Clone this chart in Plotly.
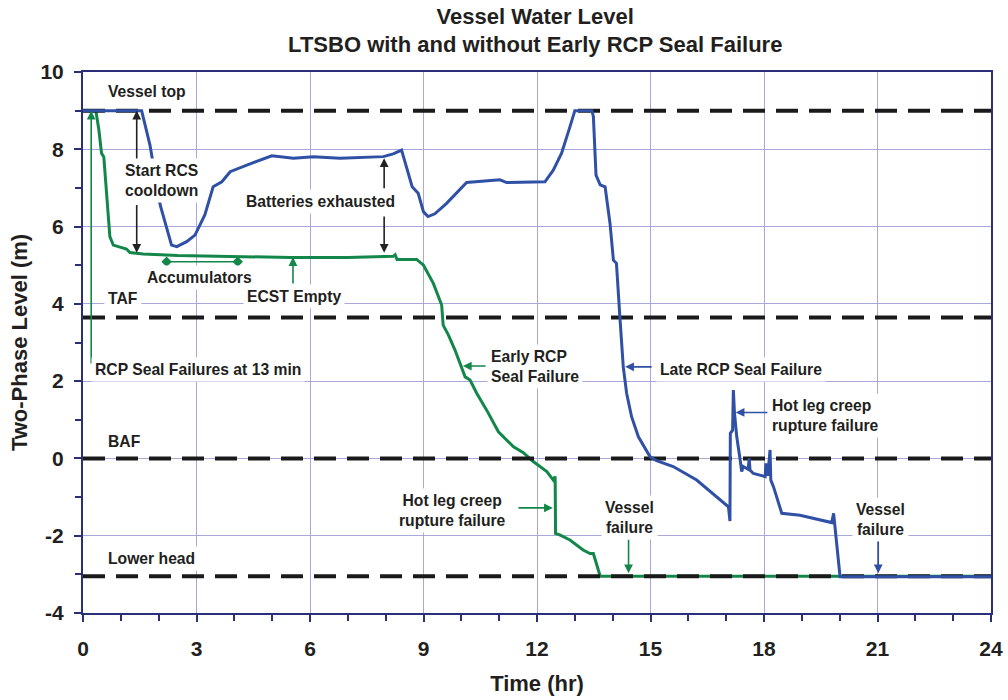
import plotly.graph_objects as go

# ---------------- data ----------------
early_t = [0, 0.34, 0.42, 0.49, 0.55, 0.62, 0.71, 0.80, 1.0, 1.15, 1.24, 1.59, 2.5, 4.0, 5.5,
           7.0, 7.85, 8.2, 8.25, 8.3, 8.82, 9.0, 9.26, 9.48, 9.52, 9.66, 9.83, 10.0, 10.1,
           10.23, 10.41, 10.67, 10.98, 11.38, 11.64, 11.9, 12.26, 12.43, 12.48, 12.49, 12.6,
           12.87, 13.22, 13.4, 13.49, 13.67, 24]
early_y = [9.0, 9.0, 8.5, 7.9, 7.8, 6.9, 5.74, 5.52, 5.46, 5.42, 5.33, 5.29, 5.25, 5.22, 5.2,
           5.2, 5.21, 5.23, 5.27, 5.15, 5.15, 5.0, 4.53, 3.97, 3.45, 3.19, 2.81, 2.37, 2.11,
           2.03, 1.68, 1.25, 0.69, 0.30, 0.15, -0.08, -0.34, -0.56, -0.47, -1.94, -1.98,
           -2.11, -2.37, -2.46, -2.46, -3.05, -3.05]

late_t = [0, 1.55, 1.77, 2.04, 2.34, 2.48, 2.74, 2.96, 3.22, 3.44, 3.67, 3.89, 4.33, 4.99,
          5.56, 6.09, 6.79, 7.94, 8.2, 8.42, 8.7, 8.86, 9.0, 9.12, 9.3, 9.61, 10.14, 11.02,
          11.2, 12.21, 12.43, 12.65, 12.87, 13.0, 13.45, 13.49, 13.56, 13.67, 13.8, 13.93,
          14.02, 14.1, 14.19, 14.28, 14.37, 14.5, 14.68, 14.81, 14.99, 15.16, 15.6, 16.22,
          17.06, 17.10, 17.11, 17.17, 17.19, 17.22, 17.28, 17.37, 17.41, 17.45, 17.58, 17.61,
          17.63, 17.72, 18.03, 18.05, 18.10, 18.16, 18.18, 18.25, 18.47, 18.95, 19.57, 19.79,
          19.84, 19.88, 20.01, 24]
late_y = [9.0, 9.0, 8.11, 6.56, 5.52, 5.48, 5.61, 5.78, 6.30, 7.03, 7.16, 7.42, 7.59, 7.83,
          7.77, 7.81, 7.77, 7.81, 7.88, 7.98, 7.03, 6.86, 6.38, 6.26, 6.33, 6.60, 7.14, 7.21,
          7.14, 7.16, 7.46, 7.9, 8.58, 9.0, 9.0, 8.85, 7.33, 7.08, 7.03, 6.08,
          5.13, 5.05, 3.67, 2.37, 1.68, 1.08, 0.56, 0.35, 0.04, -0.06, -0.21, -0.56,
          -1.25, -1.62, 0.65, 0.73, 1.77, 1.17, 0.56, -0.04, -0.34, -0.21, -0.28, 0.0,
          -0.3, -0.39, -0.47, -0.13, -0.45, 0.22, -0.56, -0.73, -1.42, -1.47, -1.6, -1.66,
          -1.42, -1.77, -3.06, -3.06]

ref_names = ["Vessel top", "TAF", "BAF", "Lower head"]
ref_levels = [9.0, 3.65, 0.0, -3.05]
time_range = [0, 24]
x_ticks = [0, 3, 6, 9, 12, 15, 18, 21, 24]
y_ticks = [-4, -2, 0, 2, 4, 6, 8, 10]
y_tick_labels = ["-4", "-2", "0", "2", "4", "6", "8", "10"]
accum_span = [2.21, 4.09]
accum_level = 5.09
seal_fail_time = 13 / 60

# ---------------- style ----------------
BLUE = "#2f50a5"
GREEN = "#13874a"
NAVY = "#2b2e78"
TXT = "#231f20"
FONT = "Liberation Sans, Arial, sans-serif"

fig = go.Figure()

fig.add_trace(go.Scatter(x=early_t, y=early_y, mode="lines",
                         line=dict(color=GREEN, width=3), name="Early RCP Seal Failure",
                         showlegend=False))
for lvl in ref_levels:
    fig.add_trace(go.Scatter(x=time_range, y=[lvl, lvl], mode="lines",
                             line=dict(color="#1a1a1a", width=4, dash="22px,11px"),
                             showlegend=False, hoverinfo="skip"))
fig.add_trace(go.Scatter(x=late_t, y=late_y, mode="lines",
                         line=dict(color=BLUE, width=3), name="Late RCP Seal Failure",
                         showlegend=False))

ann = []


def label(text, x, y, xanchor="center", align="center"):
    ann.append(dict(text=text, x=x, y=y, xref="x", yref="y", showarrow=False,
                    xanchor=xanchor, yanchor="middle", align=align,
                    font=dict(family=FONT, size=15.7, color=TXT, weight="bold"),
                    bgcolor="white", borderpad=3))


def arrow(hx, hy, tx, ty, color):
    ann.append(dict(text="", x=hx, y=hy, ax=tx, ay=ty, xref="x", yref="y",
                    axref="x", ayref="y", showarrow=True, arrowhead=2, arrowsize=1.1,
                    arrowwidth=1.6, arrowcolor=color, standoff=0))


# reference line labels
ref_label_y = [9.49, 4.15, 0.43, -2.6]
for name, ly in zip(ref_names, ref_label_y):
    label(name, 0.56, ly, xanchor="left")

# arrows first, labels over them
arrow(seal_fail_time, 9.0, seal_fail_time, 2.42, GREEN)
arrow(1.42, 9.0, 1.42, 7.45, "#222222")
arrow(1.42, 5.32, 1.42, 6.6, "#222222")
arrow(7.96, 7.77, 7.96, 6.95, "#222222")
arrow(7.96, 5.32, 7.96, 6.3, "#222222")
arrow(5.55, 5.21, 5.55, 4.49, GREEN)
arrow(10.04, 2.39, 10.68, 2.39, GREEN)
arrow(12.42, -1.28, 11.47, -1.28, GREEN)
arrow(14.42, -2.97, 14.42, -2.06, GREEN)
arrow(14.33, 2.37, 15.07, 2.37, BLUE)
arrow(17.25, 1.19, 18.13, 1.19, BLUE)
arrow(21.02, -2.97, 21.02, -2.06, BLUE)

label("Start RCS<br>cooldown", 2.08, 7.2)
label("Batteries exhausted", 6.29, 6.64)
label("Accumulators", 3.07, 4.68)
label("ECST Empty", 5.58, 4.2)
label("RCP Seal Failures at 13 min", 0.22, 2.31, xanchor="left")
label("Early RCP<br>Seal Failure", 10.68, 2.39, xanchor="left", align="left")
label("Hot leg creep<br>rupture failure", 11.28, -1.34, xanchor="right", align="center")
label("Vessel<br>failure", 14.44, -1.54)
label("Late RCP Seal Failure", 15.15, 2.29, xanchor="left")
label("Hot leg creep<br>rupture failure", 18.1, 1.10, xanchor="left", align="left")
label("Vessel<br>failure", 21.07, -1.57)

# accumulator span marker drawn on top
fig.add_trace(go.Scatter(x=accum_span, y=[accum_level, accum_level], mode="lines+markers",
                         line=dict(color=GREEN, width=1.5),
                         marker=dict(symbol="diamond", size=8, color=GREEN),
                         showlegend=False, hoverinfo="skip"))

axis_common = dict(showline=True, linecolor=NAVY, linewidth=2, mirror=True,
                   ticks="outside", ticklen=7, tickwidth=1.5, tickcolor=NAVY,
                   showgrid=True, gridcolor="#a8a8da", gridwidth=1, zeroline=False,
                   automargin=False,
                   tickfont=dict(family=FONT, size=21, color=TXT, weight="bold"))

fig.update_layout(
    width=1008, height=700,
    paper_bgcolor="white", plot_bgcolor="white",
    margin=dict(l=83, r=17, t=72, b=87),
    title=dict(text="Vessel Water Level<br>LTSBO with and without Early RCP Seal Failure",
               x=0.531, xanchor="center", yref="container", y=0.966, yanchor="top",
               font=dict(family=FONT, size=22, color=TXT, weight="bold")),
    xaxis=dict(range=time_range, tickvals=x_ticks, ticklabelstandoff=9,
               minor=dict(dtick=1, ticks="outside", ticklen=6, tickcolor=NAVY, showgrid=False),
               title=dict(text="Time (hr)", standoff=16,
                          font=dict(family=FONT, size=22, color=TXT, weight="bold")),
               **axis_common),
    yaxis=dict(range=[-4, 10], tickvals=y_ticks, ticktext=y_tick_labels, ticklabelstandoff=6,
               minor=dict(dtick=1, ticks="outside", ticklen=6, tickcolor=NAVY, showgrid=False),
               title=dict(text="Two-Phase Level (m)", standoff=7,
                          font=dict(family=FONT, size=22, color=TXT, weight="bold")),
               **axis_common),
    annotations=ann,
    showlegend=False,
)

fig.write_html("out.html", config={"displayModeBar": False},
               post_script="document.body.style.margin='0';")
